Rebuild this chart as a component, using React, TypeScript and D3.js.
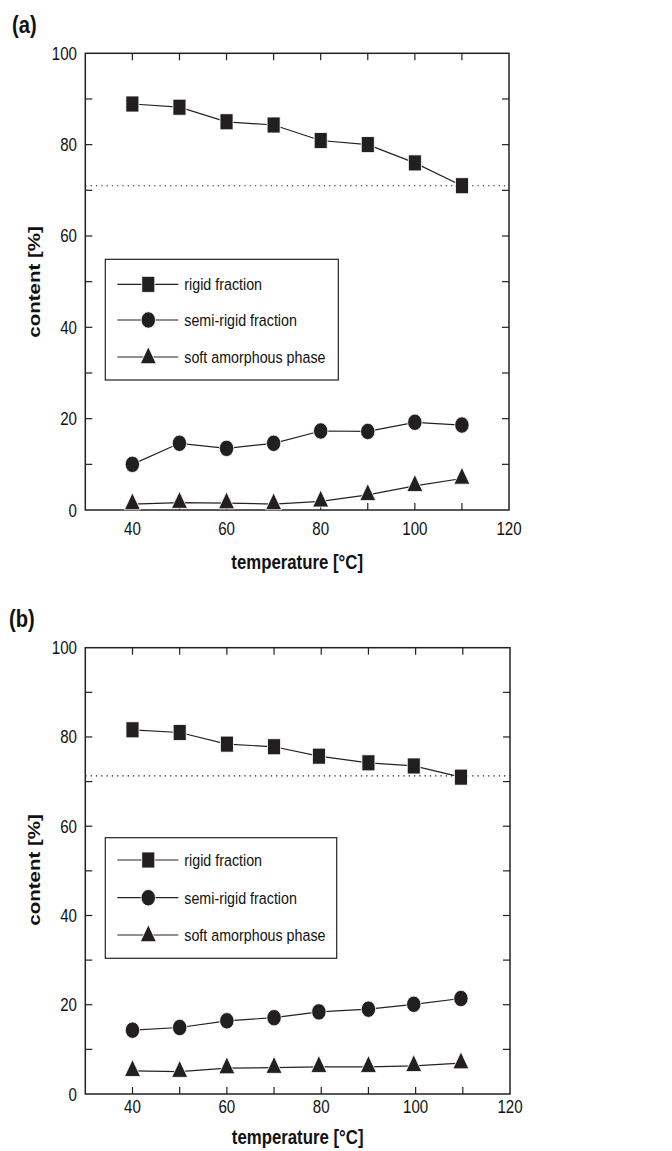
import React from 'react'
import * as d3 from 'd3'

// temperatures [°C]
const tempsA = [40, 50, 60, 70, 80, 90, 100, 110]
const tempsB = [40, 50, 60, 70, 79.5, 90, 99.6, 109.6]

// panel (a)
const rigidA = [88.9, 88.2, 85.0, 84.3, 80.9, 80.0, 76.0, 71.0]
const semiA = [10.0, 14.6, 13.5, 14.6, 17.3, 17.2, 19.2, 18.6]
const softA = [1.3, 1.6, 1.5, 1.3, 1.9, 3.3, 5.3, 6.9]
const refA = 71.0

// panel (b)
const rigidB = [81.6, 81.0, 78.4, 77.8, 75.7, 74.2, 73.5, 71.0]
const semiB = [14.3, 14.9, 16.4, 17.1, 18.4, 19.0, 20.1, 21.4]
const softB = [5.2, 5.0, 5.8, 5.9, 6.1, 6.1, 6.3, 6.9]
const refB = 71.3

const seriesNames = ['rigid fraction', 'semi-rigid fraction', 'soft amorphous phase']
const xDomain = [30, 120]
const yDomain = [0, 100]

const FONT = '"Liberation Sans", Arial, Helvetica, sans-serif'
const SX = 0.84 // the original figure is squeezed horizontally
const INK = '#231f20'

const Marker = ({ kind, x, y }) => {
  if (kind === 0) return <rect x={x - 6.5} y={y - 8} width={13} height={16} fill={INK} stroke="#fff" strokeWidth={0.8} />
  if (kind === 1) return <ellipse cx={x} cy={y} rx={7.2} ry={8.2} fill={INK} stroke="#fff" strokeWidth={0.8} />
  const h = 17, w = 16
  return <path d={`M${x},${y - (2 * h) / 3}L${x + w / 2},${y + h / 3}L${x - w / 2},${y + h / 3}Z`} fill={INK} stroke="#fff" strokeWidth={0.8} />
}

const Txt = ({ x, y, size, bold = false, anchor = 'start', children }) => (
  <text transform={`translate(${x},${y}) scale(${SX},1)`} fontSize={size} fontWeight={bold ? 'bold' : 'normal'}
    fontFamily={FONT} textAnchor={anchor} fill="#111">{children}</text>
)

const Panel = ({ cfg, temps, series, refLine }) => {
  const x = d3.scaleLinear().domain(xDomain).range([cfg.left, cfg.right])
  const y = d3.scaleLinear().domain(yDomain).range([cfg.bottom, cfg.top])
  const line = d3.line().x(d => x(d[0])).y(d => y(d[1]))
  const minorX = x.ticks(10).filter(t => t > xDomain[0] && t < xDomain[1])
  const minorY = y.ticks(10).filter(t => t > yDomain[0] && t < yDomain[1])
  const tl = 7
  const lg = cfg.legend

  return (
    <g>
      <Txt x={cfg.label[0]} y={cfg.label[1]} size={24} bold>{cfg.name}</Txt>

      {/* dotted reference */}
      <line x1={cfg.left} x2={cfg.right} y1={y(refLine)} y2={y(refLine)} stroke="#222" strokeWidth={1.2} strokeDasharray="1.3,4" />

      {/* frame + ticks */}
      <rect x={cfg.left} y={cfg.top} width={cfg.right - cfg.left} height={cfg.bottom - cfg.top} fill="none" stroke="#222" strokeWidth={1.5} />
      {minorX.map(t => (
        <g key={'x' + t} stroke="#222" strokeWidth={1.2}>
          <line x1={x(t)} x2={x(t)} y1={cfg.bottom} y2={cfg.bottom - tl} />
          <line x1={x(t)} x2={x(t)} y1={cfg.top} y2={cfg.top + tl} />
        </g>
      ))}
      {minorY.map(t => (
        <g key={'y' + t} stroke="#222" strokeWidth={1.2}>
          <line x1={cfg.left} x2={cfg.left + tl} y1={y(t)} y2={y(t)} />
          <line x1={cfg.right} x2={cfg.right - tl} y1={y(t)} y2={y(t)} />
        </g>
      ))}
      {x.ticks(5).map(t => (
        <Txt key={'xl' + t} x={x(t)} y={cfg.bottom + cfg.xLabelDy} size={18} anchor="middle">{t}</Txt>
      ))}
      {y.ticks(5).map(t => (
        <Txt key={'yl' + t} x={77} y={y(t) + 6.5} size={18} anchor="end">{t}</Txt>
      ))}
      <Txt x={(cfg.left + cfg.right) / 2} y={cfg.titleY} size={20} bold anchor="middle">temperature [°C]</Txt>
      <text transform={`translate(${cfg.yTitle[0]},${cfg.yTitle[1]}) scale(${SX},1) rotate(-90)`} fontSize={20.5} fontWeight="bold"
        fontFamily={FONT} textAnchor="middle" fill="#111">content [%]</text>

      {/* data */}
      {series.map((vals, k) => {
        const pts = temps.map((t, i) => [t, vals[i]])
        return (
          <g key={'s' + k}>
            <path d={line(pts)} fill="none" stroke="#222" strokeWidth={1.2} />
            {pts.map((p, i) => <Marker key={i} kind={k} x={x(p[0])} y={y(p[1])} />)}
          </g>
        )
      })}

      {/* legend */}
      <rect x={lg.x0} y={lg.y0} width={lg.x1 - lg.x0} height={lg.y1 - lg.y0} fill="#fff" stroke="#222" strokeWidth={1.2} />
      {seriesNames.map((name, k) => (
        <g key={'lg' + k}>
          <line x1={lg.x0 + 12} x2={lg.x0 + 73} y1={lg.rows[k]} y2={lg.rows[k]} stroke="#222" strokeWidth={1.2} />
          <Marker kind={k} x={lg.x0 + 43} y={k === 2 ? lg.rows[k] + 1 : lg.rows[k]} />
          <Txt x={lg.x0 + 79} y={lg.rows[k] + 6} size={17}>{name}</Txt>
        </g>
      ))}
    </g>
  )
}

const cfgA = {
  name: '(a)', left: 85.3, right: 509, top: 53.3, bottom: 510, label: [12, 33],
  xLabelDy: 25, titleY: 569, yTitle: [40, 282],
  legend: { x0: 105.3, x1: 338.3, y0: 259.3, y1: 380, rows: [284.3, 320, 357] },
}
const cfgB = {
  name: '(b)', left: 85.3, right: 510, top: 647.7, bottom: 1094, label: [9, 627],
  xLabelDy: 18.5, titleY: 1144, yTitle: [40, 870],
  legend: { x0: 105.3, x1: 336.7, y0: 837.7, y1: 958.3, rows: [860, 897.7, 935] },
}

export default function App() {
  return (
    <svg width={672} height={1151} style={{ position: 'absolute', left: 0, top: 0, background: '#fff' }}>
      <Panel cfg={cfgA} temps={tempsA} series={[rigidA, semiA, softA]} refLine={refA} />
      <Panel cfg={cfgB} temps={tempsB} series={[rigidB, semiB, softB]} refLine={refB} />
    </svg>
  )
}
